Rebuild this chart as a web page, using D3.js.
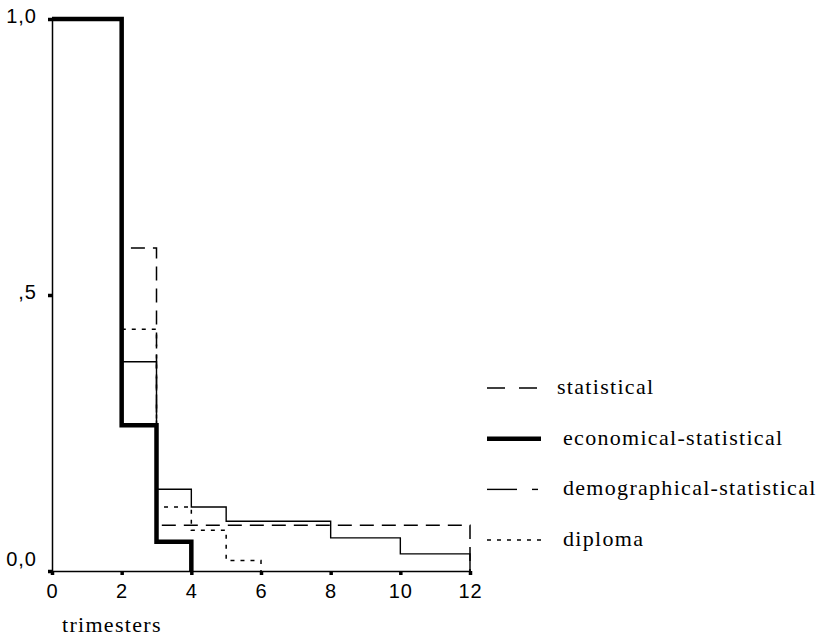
<!DOCTYPE html>
<html>
<head>
<meta charset="utf-8">
<script src="https://cdn.jsdelivr.net/npm/d3@7"></script>
<style>
  body { margin: 0; background: #fff; }
  svg { display: block; }
</style>
</head>
<body>
<div id="chart"></div>
<script>
// survival curves per study programme (time in trimesters, step value from that time on)
var seriesNames = ['statistical', 'demographical-statistical', 'diploma', 'economical-statistical'];
var statTimes = [0, 2, 3, 12];
var statSurv  = [1, 0.585, 0.083, 0];
var demoTimes = [0, 2, 3, 4, 5, 8, 10, 12];
var demoSurv  = [1, 0.379, 0.148, 0.116, 0.09, 0.06, 0.031, 0];
var diplTimes = [0, 2, 3, 4, 5, 6];
var diplSurv  = [1, 0.438, 0.116, 0.074, 0.019, 0];
var econTimes = [0, 2, 3, 4];
var econSurv  = [1, 0.264, 0.053, 0];

var xTicks = [0, 2, 4, 6, 8, 10, 12];
var yTicks = [0, 0.5, 1];
var yTickLabels = ['0,0', ',5', '1,0'];
var legendOrder = ['statistical', 'economical-statistical', 'demographical-statistical', 'diploma'];

var width = 824, height = 639;
var svg = d3.select('#chart').append('svg')
    .attr('width', width)
    .attr('height', height);

var x = d3.scaleLinear().domain([0, 12]).range([52, 470]);
var y = d3.scaleLinear().domain([0, 1]).range([571, 19]);

var styles = {
  'statistical':               { w: 1.5, dash: '14,8' },
  'economical-statistical':    { w: 4.5, dash: null },
  'demographical-statistical': { w: 1.4, dash: null },
  'diploma':                   { w: 1.5, dash: '4,6' }
};

function pts(t, s) {
  return t.map(function (d, i) { return [d, s[i]]; });
}
var curves = {
  'statistical': pts(statTimes, statSurv),
  'demographical-statistical': pts(demoTimes, demoSurv),
  'diploma': pts(diplTimes, diplSurv),
  'economical-statistical': pts(econTimes, econSurv)
};

// axes
var xAxis = d3.axisBottom(x).tickValues(xTicks).tickSize(4).tickSizeOuter(0);
var gx = svg.append('g').attr('transform', 'translate(0,' + y(0) + ')').call(xAxis);
gx.select('.domain').attr('stroke', '#000').attr('stroke-width', 1.5);
gx.selectAll('.tick line').attr('stroke', '#000').attr('stroke-width', 3.5);
gx.selectAll('.tick text')
    .attr('y', 27).attr('dy', 0)
    .attr('fill', '#000')
    .style('font-family', '"Liberation Sans", Arial, sans-serif')
    .style('font-size', '20px')
    .style('letter-spacing', '1px');

var yAxis = d3.axisLeft(y).tickValues(yTicks).tickSize(4).tickSizeOuter(0)
    .tickFormat(function (d, i) { return yTickLabels[i]; });
var gy = svg.append('g').attr('transform', 'translate(' + x(0) + ',0)').call(yAxis);
gy.select('.domain').attr('stroke', '#000').attr('stroke-width', 1.5);
gy.selectAll('.tick line').attr('stroke', '#000').attr('stroke-width', 3.5);
gy.selectAll('.tick text')
    .attr('x', -15)
    .attr('dy', function (d) { return d === 0 ? -6 : 3; })
    .attr('fill', '#000')
    .style('font-family', '"Liberation Sans", Arial, sans-serif')
    .style('font-size', '20px')
    .style('letter-spacing', '1px');

svg.append('text')
    .attr('x', 62).attr('y', 632)
    .style('font-family', '"Liberation Serif", "Times New Roman", serif')
    .style('font-size', '22px')
    .style('letter-spacing', '1.3px')
    .text('trimesters');

// curves
var line = d3.line()
    .x(function (d) { return x(d[0]); })
    .y(function (d) { return y(d[1]); })
    .curve(d3.curveStepAfter);

seriesNames.forEach(function (name) {
  var st = styles[name];
  svg.append('path')
      .datum(curves[name])
      .attr('d', line)
      .attr('fill', 'none')
      .attr('stroke', '#000')
      .attr('stroke-width', st.w)
      .attr('stroke-dasharray', st.dash)
      .attr('stroke-linejoin', 'miter');
});

// legend
var leg = svg.append('g');
legendOrder.forEach(function (name, i) {
  var st = styles[name];
  var ly = 388 + i * 50.7;
  if (name === 'demographical-statistical') {
    leg.append('line').attr('x1', 487).attr('x2', 517).attr('y1', ly).attr('y2', ly)
        .attr('stroke', '#000').attr('stroke-width', st.w);
    leg.append('line').attr('x1', 532).attr('x2', 538).attr('y1', ly).attr('y2', ly)
        .attr('stroke', '#000').attr('stroke-width', st.w);
  } else {
    leg.append('line').attr('x1', 487).attr('x2', 541).attr('y1', ly).attr('y2', ly)
        .attr('stroke', '#000').attr('stroke-width', st.w)
        .attr('stroke-dasharray', name === 'statistical' ? '18,14' : st.dash);
  }
  leg.append('text')
      .attr('x', name === 'statistical' ? 557 : 563)
      .attr('y', ly + 6)
      .style('font-family', '"Liberation Serif", "Times New Roman", serif')
      .style('font-size', '22px')
      .style('letter-spacing', '1.3px')
      .text(name);
});
</script>
</body>
</html>
